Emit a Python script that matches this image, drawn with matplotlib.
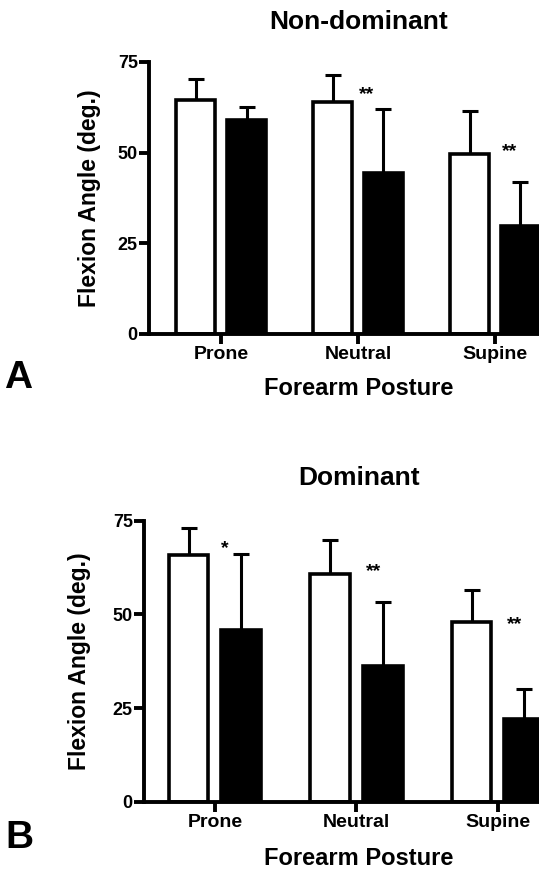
import numpy as np
import matplotlib
matplotlib.use("Agg")
import matplotlib.pyplot as plt

plt.rcParams['font.family'] = ['Liberation Sans', 'DejaVu Sans']
plt.rcParams['font.weight'] = 'bold'

# datos (grados)
posturas = ["Prone", "Neutral", "Supine"]
yticks = [0, 25, 50, 75]

# A: no dominante
nd_blanco = [64.4, 63.9, 49.7]
nd_blanco_sd = [6.0, 7.4, 11.8]
nd_negro = [59.1, 44.4, 29.7]
nd_negro_sd = [3.6, 17.7, 12.3]
nd_estrellas = ["", "**", "**"]

# B: dominante
d_blanco = [65.8, 60.9, 48.0]
d_blanco_sd = [7.4, 8.9, 8.6]
d_negro = [45.8, 36.2, 22.1]
d_negro_sd = [20.3, 17.0, 8.1]
d_estrellas = ["*", "**", "**"]

# posicion de las estrellas (x relativo al grupo, y en grados)
nd_estrella_pos = [(0.0, 0.0), (0.06, 65.9), (0.11, 50.3)]
d_estrella_pos = [(0.07, 67.7), (0.124, 61.5), (0.116, 47.4)]


def panel(ax, blanco, blanco_sd, negro, negro_sd, estrellas, est_pos, xlim_izq, label_x):
    x = np.arange(len(posturas))
    off = 0.186
    ancho = 0.28
    ax.bar(x - off, blanco, ancho, color="white", edgecolor="black", linewidth=2.6, zorder=2)
    ax.bar(x + off, negro, ancho, color="black", edgecolor="black", linewidth=2.6, zorder=2)
    ax.errorbar(x - off, blanco, yerr=[np.zeros(3), blanco_sd], fmt="none", ecolor="black",
                elinewidth=2.2, capsize=6, capthick=2.2, zorder=1)
    ax.errorbar(x + off, negro, yerr=[np.zeros(3), negro_sd], fmt="none", ecolor="black",
                elinewidth=2.2, capsize=6, capthick=2.2, zorder=1)
    for i, s in enumerate(estrellas):
        if s:
            ax.text(i + est_pos[i][0], est_pos[i][1], s, ha="center", va="center",
                    fontsize=14, fontweight="bold")
    ax.set_xlim(xlim_izq, 2.5)
    ax.set_ylim(0, 75)
    ax.set_xticks(x)
    ax.set_xticklabels(posturas, fontsize=14, fontweight="bold")
    ax.set_yticks(yticks)
    ax.set_yticklabels([str(v) for v in yticks], fontsize=13, fontweight="bold")
    ax.spines["top"].set_visible(False)
    ax.spines["right"].set_visible(False)
    ax.spines["left"].set_linewidth(2.8)
    ax.spines["bottom"].set_linewidth(2.8)
    ax.tick_params(axis="x", length=7, width=2.8, pad=2)
    ax.tick_params(axis="y", length=7, width=2.8, pad=1)
    ax.set_ylabel("Flexion Angle (deg.)", fontsize=16.5, fontweight="bold")
    ax.yaxis.set_label_coords(label_x, 0.5)


fig = plt.figure(figsize=(5.39, 8.72), dpi=100)

axA = fig.add_axes([0.2764, 0.617, 0.769, 0.312])
panel(axA, nd_blanco, nd_blanco_sd, nd_negro, nd_negro_sd, nd_estrellas, nd_estrella_pos,
      -0.526, -0.116)
fig.text(0.666, 0.975, "Non-dominant", ha="center", va="center", fontsize=19, fontweight="bold")
fig.text(0.666, 0.555, "Forearm Posture", ha="center", va="center", fontsize=17, fontweight="bold")
fig.text(0.034, 0.5665, "A", ha="center", va="center", fontsize=28, fontweight="bold")

axB = fig.add_axes([0.267, 0.0803, 0.788, 0.3225])
panel(axB, d_blanco, d_blanco_sd, d_negro, d_negro_sd, d_estrellas, d_estrella_pos,
      -0.502, -0.125)
fig.text(0.666, 0.4518, "Dominant", ha="center", va="center", fontsize=19, fontweight="bold")
fig.text(0.666, 0.016, "Forearm Posture", ha="center", va="center", fontsize=17, fontweight="bold")
fig.text(0.036, 0.039, "B", ha="center", va="center", fontsize=28, fontweight="bold")

plt.savefig("out.png", dpi=100)
